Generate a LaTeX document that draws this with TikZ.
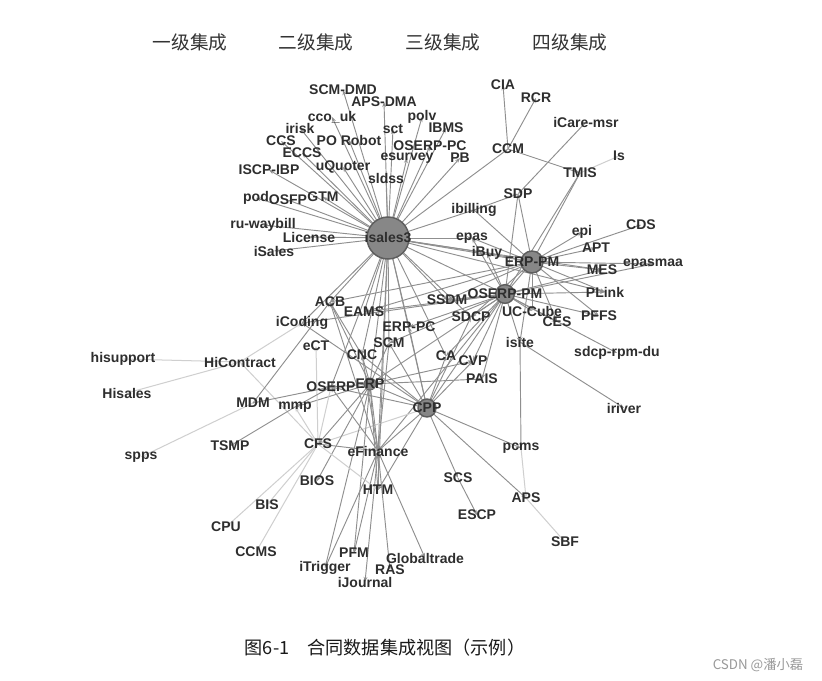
\documentclass[tikz,border=0pt]{standalone}
\usepackage{fontspec}
\setmainfont{Liberation Sans}
\newfontfamily\cjk{Noto Sans CJK SC}
\usetikzlibrary{arrows.meta}
\pgfdeclarelayer{back}
\pgfdeclarelayer{bg}
\pgfsetlayers{back,bg,main}
\begin{document}
\begin{tikzpicture}[x=0.75pt,y=-0.75pt,
  lbl/.style={font=\fontsize{10.5}{12}\selectfont\bfseries, text=black!82, inner sep=0pt},
  ttl/.style={font=\cjk\fontsize{14}{16}\selectfont, text=black!80, inner sep=0pt},
  dk/.style={draw=black!44, line width=0.7pt, -{Stealth[length=3.8pt,width=2.8pt]}},
  lt/.style={draw=black!19, line width=0.75pt, -{Stealth[length=3.8pt,width=2.8pt]}},
  hub/.style={circle, fill=black!47, draw=black!63, line width=1.1pt, inner sep=0pt}]
\useasboundingbox (0,0) rectangle (822,681);
\begin{pgfonlayer}{back}
\fill[white] (0,0) rectangle (822,681);
\end{pgfonlayer}

% titles
\node[ttl] (t1) at (190,42) {一级集成};
\node[ttl] (t2) at (316,42) {二级集成};
\node[ttl] (t3) at (443,42) {三级集成};
\node[ttl] (t4) at (570,42) {四级集成};

% hub circles
\node[hub, minimum size=31.5pt] (isalesC) at (388,238) {};
\node[hub, minimum size=16.5pt] (erppmC) at (532,262) {};
\node[hub, minimum size=14pt] (oserppmC) at (505,294) {};
\node[hub, minimum size=13.5pt] (cppC) at (427,408) {};
\node[hub, minimum size=9pt, line width=0.6pt] (erpC) at (370,384) {};

% labels
\node[lbl] (isales) at (388,238) {isales3};
\node[lbl] (erppm) at (532,262) {ERP-PM};
\node[lbl] (oserppm) at (505,294) {OSERP-PM};
\node[lbl] (cpp) at (427,408) {CPP};
\node[lbl] (erp) at (370,384) {ERP};
\node[lbl] (scmdmd) at (343,90) {SCM-DMD};
\node[lbl] (apsdma) at (384,102) {APS-DMA};
\node[lbl] (ccouk) at (332,117) {cco\_uk};
\node[lbl] (polv) at (422,117) {polv};
\node[lbl] (irisk) at (300,128) {irisk};
\node[lbl] (sct) at (393,129) {sct};
\node[lbl] (ibms) at (446,128) {IBMS};
\node[lbl] (ccs) at (281,141) {CCS};
\node[lbl] (porobot) at (349,140) {PO Robot};
\node[lbl] (oserppc) at (430,146) {OSERP-PC};
\node[lbl] (eccs) at (302,153) {ECCS};
\node[lbl] (esurvey) at (407,158) {esurvey};
\node[lbl] (pb) at (460,158) {PB};
\node[lbl] (uquoter) at (343,167) {uQuoter};
\node[lbl] (iscpibp) at (269,170) {ISCP-IBP};
\node[lbl] (sldss) at (386,178) {sldss};
\node[lbl] (pod) at (256,198) {pod};
\node[lbl] (osfp) at (288,200) {OSFP};
\node[lbl] (gtm) at (323,197) {GTM};
\node[lbl] (ibilling) at (474,210) {ibilling};
\node[lbl] (ruwaybill) at (263,225) {ru-waybill};
\node[lbl] (license) at (309,237) {License};
\node[lbl] (isaleslow) at (274,251) {iSales};
\node[lbl] (epas) at (472,238) {epas};
\node[lbl] (ibuy) at (487,253) {iBuy};
\node[lbl] (cia) at (503,85) {CIA};
\node[lbl] (rcr) at (536,98) {RCR};
\node[lbl] (icare) at (586,122) {iCare-msr};
\node[lbl] (ccm) at (508,149) {CCM};
\node[lbl] (is) at (619,156) {Is};
\node[lbl] (tmis) at (580,173) {TMIS};
\node[lbl] (sdp) at (518,194) {SDP};
\node[lbl] (epi) at (582,232) {epi};
\node[lbl] (cds) at (641,225) {CDS};
\node[lbl] (apt) at (596,248) {APT};
\node[lbl] (epasmaa) at (653,264) {epasmaa};
\node[lbl] (mes) at (602,270) {MES};
\node[lbl] (plink) at (605,292) {PLink};
\node[lbl] (pffs) at (599,316) {PFFS};
\node[lbl] (uccube) at (532,311) {UC-Cube};
\node[lbl] (ces) at (557,322) {CES};
\node[lbl] (sdcprpm) at (617,353) {sdcp-rpm-du};
\node[lbl] (isite) at (520,342) {isite};
\node[lbl] (iriver) at (624,408) {iriver};
\node[lbl] (ssdm) at (447,300) {SSDM};
\node[lbl] (sdcp) at (471,317) {SDCP};
\node[lbl] (eams) at (364,312) {EAMS};
\node[lbl] (acb) at (330,302) {ACB};
\node[lbl] (icoding) at (302,323) {iCoding};
\node[lbl] (erppc) at (409,327) {ERP-PC};
\node[lbl] (scm) at (389,343) {SCM};
\node[lbl] (cnc) at (362,355) {CNC};
\node[lbl] (ca) at (446,356) {CA};
\node[lbl] (cvp) at (473,361) {CVP};
\node[lbl] (pais) at (482,379) {PAIS};
\node[lbl] (ect) at (316,346) {eCT};
\node[lbl] (hisupport) at (123,359) {hisupport};
\node[lbl] (hicontract) at (240,362) {HiContract};
\node[lbl] (hisales) at (127,393) {Hisales};
\node[lbl] (oserp) at (331,387) {OSERP};
\node[lbl] (mdm) at (253,403) {MDM};
\node[lbl] (mmp) at (295,407) {mmp};
\node[lbl] (tsmp) at (230,446) {TSMP};
\node[lbl] (cfs) at (318,444) {CFS};
\node[lbl] (spps) at (141,457) {spps};
\node[lbl] (efinance) at (378,451) {eFinance};
\node[lbl] (bios) at (317,481) {BIOS};
\node[lbl] (htm) at (378,490) {HTM};
\node[lbl] (bis) at (267,505) {BIS};
\node[lbl] (cpu) at (226,527) {CPU};
\node[lbl] (ccms) at (256,552) {CCMS};
\node[lbl] (pfm) at (354,553) {PFM};
\node[lbl] (globaltrade) at (425,558) {Globaltrade};
\node[lbl] (itrigger) at (325,568) {iTrigger};
\node[lbl] (ras) at (390,570) {RAS};
\node[lbl] (ijournal) at (365,582) {iJournal};
\node[lbl] (pcms) at (521,448) {pcms};
\node[lbl] (scs) at (458,478) {SCS};
\node[lbl] (aps) at (526,498) {APS};
\node[lbl] (escp) at (477,515) {ESCP};
\node[lbl] (sbf) at (565,542) {SBF};

% caption and watermark
\node[font=\cjk\fontsize{13.6}{15}\selectfont, text=black!90, inner sep=0pt] (cap) at (385,648) {图6-1\hspace{1em}合同数据集成视图（示例）};
\node[font=\cjk\fontsize{10}{12}\selectfont, text=black!40, inner sep=0pt] (wm) at (758,665) {CSDN @潘小磊};

\begin{pgfonlayer}{bg}
\foreach \t in {scmdmd,apsdma,ccouk,polv,irisk,sct,ibms,ccs,porobot,oserppc,eccs,esurvey,pb,uquoter,iscpibp,sldss,pod,osfp,gtm,ruwaybill,license,isaleslow,ibilling,epas,ibuy,ccm,erppm,oserppm,ssdm,sdcp,acb,eams,icoding,erppc,scm,cnc,erp,oserp,cpp,efinance,htm,ca,mes,plink}
  \draw[dk] (isales.center) -- (\t.center);
\foreach \t in {cds,epi,apt,epasmaa,mes,plink,pffs,ces,uccube,isite,oserppm,ssdm,acb,eams,sdcp}
  \draw[dk] (erppm.center) -- (\t.center);
\foreach \s in {ibilling,ibuy,epas,sdp,tmis}
  \draw[dk] (\s.center) -- (erppm.center);
\foreach \s in {sdp,tmis}
  \draw[dk] (\s.center) -- (oserppm.center);
\draw[dk] (ibilling.center) -- (sdp.center);
\draw[dk] (icare.center) -- (sdp.center);
\foreach \t in {cia,rcr,tmis}
  \draw[dk] (ccm.center) -- (\t.center);
\draw[lt] (tmis.center) -- (is.center);
\foreach \t in {ssdm,sdcp,uccube,ces,isite,ca,cvp,pais,cpp,erp,erppc,scm,pffs,plink,mes,epasmaa,sdcprpm,icoding,eams,efinance,ibuy,epas}
  \draw[dk] (oserppm.center) -- (\t.center);
\draw[dk] (isite.center) -- (pcms.center);
\draw[dk] (isite.center) -- (iriver.center);
\foreach \t in {scs,aps,pcms,efinance,htm,oserp,erp,scm,cnc,erppc,ca,cvp,sdcp,icoding}
  \draw[dk] (cpp.center) -- (\t.center);
\draw[lt] (cpp.center) -- (cfs.center);
\draw[dk] (scs.center) -- (escp.center);
\draw[lt] (pcms.center) -- (aps.center);
\draw[lt] (aps.center) -- (sbf.center);
\foreach \t in {pais,cvp,cnc,scm,oserp,efinance,htm,pfm,itrigger,cfs,bios,acb,mmp}
  \draw[dk] (erp.center) -- (\t.center);
\foreach \t in {itrigger,pfm,ijournal,ras,globaltrade,htm,cnc,scm,oserp,acb}
  \draw[dk] (efinance.center) -- (\t.center);
\foreach \t in {bis,cpu,ccms,mmp,hicontract,ect,oserp,htm}
  \draw[lt] (cfs.center) -- (\t.center);
\draw[dk] (cfs.center) -- (efinance.center);
\foreach \t in {hisupport,hisales,icoding}
  \draw[lt] (hicontract.center) -- (\t.center);
\draw[lt] (mdm.center) -- (spps.center);
\draw[dk] (mdm.center) -- (oserp.center);
\draw[dk] (mdm.center) -- (acb.center);
\draw[dk] (mmp.center) -- (tsmp.center);
\draw[dk] (mmp.center) -- (oserp.center);
\draw[dk] (acb.center) -- (cnc.center);
\end{pgfonlayer}
\end{tikzpicture}
\end{document}
